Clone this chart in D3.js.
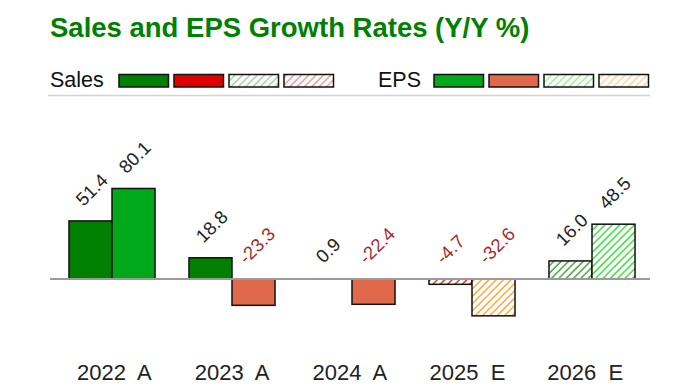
<!DOCTYPE html>
<html>
<head>
<meta charset="utf-8">
<script src="https://cdn.jsdelivr.net/npm/d3@7"></script>
<style>
  html, body { margin: 0; padding: 0; background: #fff; }
  svg { display: block; font-family: "Liberation Sans", Arial, sans-serif; }
</style>
</head>
<body>
<svg id="chart" width="700" height="387"></svg>
<script>
// ---- data ----
const categories = ["2022  A", "2023  A", "2024  A", "2025  E", "2026  E"];
const estimate = [false, false, false, true, true];
const salesGrowth = [51.4, 18.8, 0.9, -4.7, 16.0];
const epsGrowth = [80.1, -23.3, -22.4, -32.6, 48.5];
const seriesNames = ["Sales", "EPS"];

const svg = d3.select("#chart");

// ---- colours / patterns ----
const fills = {
  Sales: { pos: "#008000", neg: "#e00000", posHatch: "#3a9f3a", negHatch: "#d42a2a" },
  EPS:   { pos: "#00a91a", neg: "#e0684b", posHatch: "#2fe02f", negHatch: "#ffa030" }
};
const defs = svg.append("defs");
function hatch(id, color, opacity) {
  const p = defs.append("pattern").attr("id", id).attr("patternUnits", "userSpaceOnUse")
    .attr("width", 5.2).attr("height", 5.2).attr("patternTransform", "rotate(45)");
  p.append("rect").attr("width", 5.2).attr("height", 5.2).attr("fill", "#fff");
  p.append("line").attr("x1", 1).attr("y1", 0).attr("x2", 1).attr("y2", 5.2)
    .attr("stroke", color).attr("stroke-width", 1.4).attr("stroke-opacity", opacity);
}
seriesNames.forEach(s => {
  hatch(s + "-posHatch", fills[s].posHatch, 1);
  hatch(s + "-negHatch", fills[s].negHatch, 1);
  hatch(s + "-posHatchL", fills[s].posHatch, 0.5);
  hatch(s + "-negHatchL", fills[s].negHatch, 0.5);
});
function fillFor(series, v, est, light) {
  if (!est) return v >= 0 ? fills[series].pos : fills[series].neg;
  return "url(#" + series + "-" + (v >= 0 ? "posHatch" : "negHatch") + (light ? "L" : "") + ")";
}

// ---- title ----
svg.append("text").attr("x", 50).attr("y", 37)
  .attr("font-size", 27.5).attr("font-weight", "bold").attr("fill", "#008000")
  .text("Sales and EPS Growth Rates (Y/Y %)");

// ---- legend ----
const legendDefs = [
  { name: "Sales", x: 50, sx: 119 },
  { name: "EPS", x: 378, sx: 434 }
];
legendDefs.forEach(l => {
  svg.append("text").attr("x", l.x).attr("y", 87).attr("font-size", 21.5).attr("fill", "#111")
    .text(l.name);
  const kinds = [[1, false], [-1, false], [1, true], [-1, true]];
  kinds.forEach((k, i) => {
    svg.append("rect").attr("x", l.sx + i * 55).attr("y", 74.5).attr("width", 49.5).attr("height", 12.5)
      .attr("fill", fillFor(l.name, k[0], k[1], true))
      .attr("stroke", "#111").attr("stroke-width", 1.5);
  });
});
svg.append("line").attr("x1", 48).attr("x2", 650).attr("y1", 95.5).attr("y2", 95.5)
  .attr("stroke", "#d4d4d4").attr("stroke-width", 1.5);

// ---- scales ----
const x0 = d3.scaleBand().domain(categories).range([52, 652]).paddingInner(0.283).paddingOuter(0.1415);
const x1 = d3.scaleBand().domain(seriesNames).range([0, x0.bandwidth()]);
const xLabel = d3.scaleBand().domain(categories).range([55.5, 644]);
const y = d3.scaleLinear().domain([-40, 100]).range([279 + 40 * 1.13, 279 - 100 * 1.13]);

const rows = categories.map((c, i) => ({
  cat: c, est: estimate[i],
  vals: [{ s: "Sales", v: salesGrowth[i] }, { s: "EPS", v: epsGrowth[i] }]
}));

const g = svg.append("g");

const grp = g.selectAll("g.cat").data(rows).join("g").attr("class", "cat")
  .attr("transform", d => `translate(${x0(d.cat)},0)`);

grp.selectAll("rect").data(d => d.vals.map(v => ({ ...v, est: d.est }))).join("rect")
  .attr("x", d => x1(d.s))
  .attr("width", x1.bandwidth())
  .attr("y", d => Math.min(y(d.v), y(0)))
  .attr("height", d => Math.abs(y(d.v) - y(0)))
  .attr("fill", d => fillFor(d.s, d.v, d.est, false))
  .attr("stroke", d => Math.abs(y(d.v) - y(0)) < 2 ? "none" : "#111")
  .attr("stroke-width", 1.5);

// zero line (drawn over bars)
g.append("line").attr("x1", 50).attr("x2", 650).attr("y1", y(0)).attr("y2", y(0))
  .attr("stroke", "#9a9a9a").attr("stroke-width", 2);

grp.selectAll("text.val").data(d => d.vals.map(v => ({ ...v, est: d.est }))).join("text")
  .attr("class", "val")
  .attr("font-size", 18.5)
  .attr("fill", d => d.v >= 0 ? "#222" : "#a52a2a")
  .attr("transform", d => {
    const cx = x1(d.s) + x1.bandwidth() / 2 - 7;
    const top = Math.min(y(d.v), y(0)) - 14;
    return `translate(${cx},${top}) rotate(-45)`;
  })
  .text(d => d.v.toFixed(1));

// x-axis labels
const xAxis = d3.axisBottom(xLabel).tickSize(0).tickPadding(0);
const ax = svg.append("g").attr("transform", "translate(0,364)").call(xAxis);
ax.select(".domain").remove();
ax.selectAll("text").attr("font-size", 22).attr("fill", "#222")
  .attr("font-family", "'Liberation Sans', Arial, sans-serif")
  .style("white-space", "pre").attr("xml:space", "preserve");
</script>
</body>
</html>
